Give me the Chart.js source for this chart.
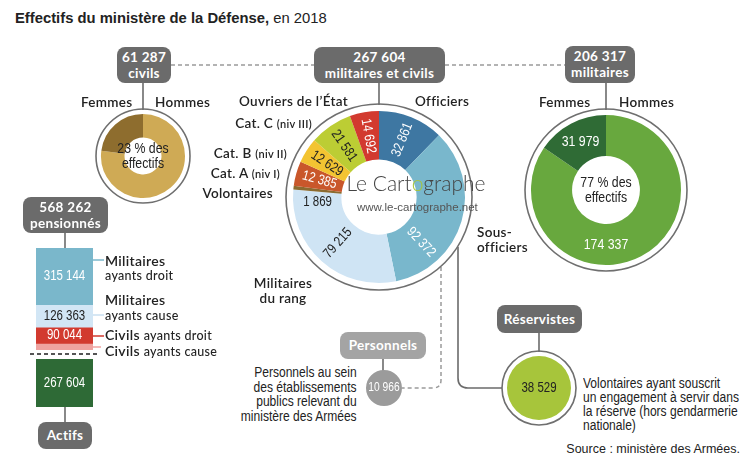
<html>
<head>
<meta charset="utf-8">
<style>
  html, body { margin: 0; padding: 0; background: #fff; }
  #page { position: relative; width: 750px; height: 473px; overflow: hidden;
    font-family: "Liberation Sans", Arial, sans-serif; color: #222; }
  canvas, svg { position: absolute; }
  .t { position: absolute; white-space: nowrap; }
  .box { position: absolute; background: #6b6b6b; color: #fff; border-radius: 8px; text-align: center;
    font-family: Lato, sans-serif; font-weight: 700; font-size: 13.5px; line-height: 16px; letter-spacing: 0.3px; }
  .cat { position: absolute; white-space: nowrap; font-family: Lato, sans-serif; font-weight: 600;
    font-size: 13.5px; line-height: 16px; color: #222; letter-spacing: 0.3px; }
  .small { font-size: 11px; font-weight: 600; }
  .narrow { font-family: "Liberation Sans", Arial, sans-serif; transform: scaleX(0.86); }
</style>
</head>
<body>
<div id="page">
  <svg width="750" height="473">
    <g stroke="#9a9a9a" stroke-width="1.3" stroke-dasharray="4 3" fill="none">
      <line x1="171" y1="65" x2="314" y2="65"/>
      <line x1="445" y1="65" x2="565" y2="65"/>
    </g>
    <g stroke="#6b6b6b" stroke-width="1.6" fill="none">
      <line x1="143" y1="83" x2="143" y2="110"/>
      <line x1="379" y1="83" x2="379" y2="105"/>
      <line x1="606" y1="83" x2="606" y2="110"/>
      <line x1="65" y1="233" x2="65" y2="248"/>
      <line x1="65" y1="407" x2="65" y2="422"/>
      <line x1="383" y1="359" x2="383" y2="371"/>
      <line x1="539" y1="333" x2="539" y2="352"/>
      <path d="M458 247 V378 Q458 388 468 388 H502"/>
    </g>
    <path d="M441 267 V380 Q441 388 433 388 H402" stroke="#9a9a9a" stroke-width="1.5" stroke-dasharray="4 3" fill="none"/>
    <line x1="30" y1="354" x2="100" y2="354" stroke="#555" stroke-width="2" stroke-dasharray="4 3"/>
    <line x1="93" y1="260" x2="104" y2="260" stroke="#7ab7cb" stroke-width="1.5"/>
    <line x1="93" y1="315" x2="104" y2="315" stroke="#c9dff0" stroke-width="1.5"/>
    <line x1="93" y1="336" x2="104" y2="336" stroke="#d23a2f" stroke-width="1.5"/>
    <line x1="93" y1="347" x2="101" y2="347" stroke="#efa3a0" stroke-width="1.5"/>
  </svg>

  <canvas id="civils" width="100" height="100" style="left:93px;top:106px"></canvas>
  <canvas id="main" width="192" height="192" style="left:283px;top:101px"></canvas>
  <canvas id="militaires" width="168" height="168" style="left:522px;top:106px"></canvas>
  <canvas id="pension" width="57" height="102" style="left:36px;top:248px"></canvas>
  <canvas id="actifs" width="57" height="48" style="left:36px;top:359px"></canvas>
  <canvas id="personnels" width="40" height="40" style="left:364px;top:368px"></canvas>
  <canvas id="reservistes" width="80" height="80" style="left:499px;top:348px"></canvas>

  <div class="t" style="left:15px;top:9px;font-size:14.8px;line-height:18px"><b>Effectifs du ministère de la Défense,</b> en 2018</div>

  <div class="box" style="left:117px;top:47px;width:54px;height:36px;padding-top:2px;box-sizing:border-box">61 287<br>civils</div>
  <div class="box" style="left:314px;top:47px;width:131px;height:36px;padding-top:2px;box-sizing:border-box">267 604<br>militaires et civils</div>
  <div class="box" style="left:565px;top:46px;width:70px;height:37px;padding-top:2px;box-sizing:border-box">206 317<br>militaires</div>
  <div class="box" style="left:23px;top:197px;width:85px;height:36px;padding-top:2px;box-sizing:border-box">568 262<br>pensionnés</div>
  <div class="box" style="left:38px;top:422px;width:54px;height:27px;line-height:27px">Actifs</div>
  <div class="box" style="left:340px;top:332px;width:86px;height:27px;line-height:27px;background:#a4a4a4">Personnels</div>
  <div class="box" style="left:497px;top:305px;width:85px;height:28px;line-height:28px">Réservistes</div>

  <div class="cat" style="left:81px;top:94px">Femmes</div>
  <div class="cat" style="left:155px;top:94px">Hommes</div>
  <div class="cat" style="left:239px;top:93px">Ouvriers de l’État</div>
  <div class="cat" style="left:415px;top:93px">Officiers</div>
  <div class="cat" style="right:438px;top:115px">Cat. C <span class="small">(niv III)</span></div>
  <div class="cat" style="right:463px;top:145px">Cat. B <span class="small">(niv II)</span></div>
  <div class="cat" style="right:470px;top:165px">Cat. A <span class="small">(niv I)</span></div>
  <div class="cat" style="right:477px;top:185px">Volontaires</div>
  <div class="cat" style="left:477px;top:225px;line-height:15px">Sous-<br>officiers</div>
  <div class="cat" style="left:243px;top:276px;width:80px;text-align:center;line-height:15px">Militaires<br>du rang</div>
  <div class="cat" style="left:539px;top:94px">Femmes</div>
  <div class="cat" style="left:619px;top:94px">Hommes</div>

  <div class="cat" style="left:105px;top:253px;font-size:14px">Militaires</div>
  <div class="cat" style="left:105px;top:268px;font-size:12.5px;font-weight:500">ayants droit</div>
  <div class="cat" style="left:105px;top:292px;font-size:14px">Militaires</div>
  <div class="cat" style="left:105px;top:308px;font-size:12.5px;font-weight:500">ayants cause</div>
  <div class="cat" style="left:105px;top:327px;font-size:14px">Civils <span style="font-size:12.5px;font-weight:500">ayants droit</span></div>
  <div class="cat" style="left:105px;top:343px;font-size:14px">Civils <span style="font-size:12.5px;font-weight:500">ayants cause</span></div>

  <div class="t" style="left:346px;top:170px;width:140px;text-align:center;font-family:Lato,sans-serif;font-weight:300;font-size:21px;line-height:26px;color:#444">Le Cart<span style="color:#a7c53b">o</span>graphe</div>
  <div class="t" style="left:357px;top:200px;font-size:11.5px;line-height:14px;color:#555">www.le-cartographe.net</div>

  <div class="t narrow" style="right:393px;top:365px;text-align:right;font-size:14px;line-height:14.5px;transform-origin:right top">Personnels au sein<br>des établissements<br>publics relevant du<br>ministère des Armées</div>
  <div class="t narrow" style="left:583px;top:376px;font-size:14px;line-height:14px;transform-origin:left top">Volontaires ayant souscrit<br>un engagement à servir dans<br>la réserve (hors gendarmerie<br>nationale)</div>
  <div class="t" style="right:10px;top:441px;font-size:12.5px;line-height:16px">Source : ministère des Armées.</div>
</div>

<script src="https://cdn.jsdelivr.net/npm/chart.js@4.4.0/dist/chart.umd.min.js"></script>
<script>
  // main ring, clockwise from the top
  const mainLabels = ['Officiers', 'Sous-officiers', 'Militaires du rang', 'Volontaires',
    'Cat. A (niv I)', 'Cat. B (niv II)', 'Cat. C (niv III)', "Ouvriers de l'État"];
  const mainValues = [32861, 92372, 79215, 1869, 12385, 12629, 21581, 14692];

  const civilsLabels = ['Hommes', 'Femmes'];
  const civilsShare = [77, 23];
  const militairesLabels = ['Hommes', 'Femmes'];
  const militairesValues = [174337, 31979];

  const pensionLabels = ['Militaires ayants droit', 'Militaires ayants cause', 'Civils ayants droit', 'Civils ayants cause'];
  const pensionValues = [315144, 126363, 90044, 36711];
  const actifsValues = [267604];

  const personnelsValues = [10966];
  const reservistesValues = [38529];

  const FONT = '"Liberation Sans", Arial, sans-serif';
  const SQUEEZE = 0.82; // condensed look
  const fmt = v => String(v).replace(/\B(?=(\d{3})+(?!\d))/g, ' ');

  function narrowText(ctx, s, x, y, rot) {
    ctx.save();
    ctx.translate(x, y);
    if (rot) ctx.rotate(rot);
    ctx.scale(SQUEEZE, 1);
    ctx.fillText(s, 0, 0);
    ctx.restore();
  }

  // outline ring + slice labels + centre text
  const deco = {
    id: 'deco',
    afterDatasetsDraw(chart, args, o) {
      const ctx = chart.ctx;
      const arcs = chart.getDatasetMeta(0).data;
      const a0 = arcs[0];
      ctx.save();
      if (o.ring) {
        ctx.beginPath();
        ctx.arc(a0.x, a0.y, a0.outerRadius + o.ring, 0, Math.PI * 2);
        ctx.lineWidth = 1.6;
        ctx.strokeStyle = '#6f6f6f';
        ctx.stroke();
      }
      ctx.textAlign = 'center';
      ctx.textBaseline = 'middle';
      if (o.text) {
        ctx.font = o.font;
        arcs.forEach((arc, i) => {
          if (!o.text[i]) return;
          const p = arc.getProps(['startAngle', 'endAngle', 'innerRadius', 'outerRadius', 'x', 'y']);
          let mid = (p.startAngle + p.endAngle) / 2;
          if (o.at && o.at[i] != null) mid = (o.at[i] - 90) * Math.PI / 180;
          const rr = (p.innerRadius + p.outerRadius) / 2;
          let x = p.x + Math.cos(mid) * rr, y = p.y + Math.sin(mid) * rr;
          const tiny = p.endAngle - p.startAngle < 0.1;
          if (tiny) y += 12;
          let rot = 0;
          if (o.radial && !tiny) {
            rot = mid;
            while (rot > Math.PI / 2) rot -= Math.PI;
            while (rot < -Math.PI / 2) rot += Math.PI;
          }
          ctx.fillStyle = o.text[i];
          narrowText(ctx, fmt(chart.data.datasets[0].data[i]), x, y, rot);
        });
      }
      if (o.center) {
        ctx.font = o.centerFont;
        ctx.fillStyle = o.centerColor || '#222';
        const lh = o.centerLh || 16;
        o.center.forEach((s, k) => {
          narrowText(ctx, s, a0.x, a0.y + (k - (o.center.length - 1) / 2) * lh, 0);
        });
      }
      ctx.restore();
    }
  };

  function ring(id, labels, values, colors, o) {
    new Chart(document.getElementById(id), {
      type: 'doughnut',
      data: { labels: labels, datasets: [{ data: values, backgroundColor: colors, borderWidth: 0 }] },
      options: {
        responsive: false, animation: false, events: [],
        radius: o.r, cutout: o.cut,
        plugins: { legend: { display: false }, tooltip: { enabled: false }, deco: o }
      },
      plugins: [deco]
    });
  }

  ring('main', mainLabels, mainValues,
    ['#3e77a2', '#79b7cc', '#cfe4f4', '#8b6b30', '#c9572b', '#f3c432', '#bccd34', '#d23a2f'],
    { r: 86, cut: 42, ring: 7, radial: true, font: '14px ' + FONT,
      text: ['#fff', '#fff', '#222', '#222', '#fff', '#222', '#222', '#fff'],
      at: [null, 137, null, null, null, null, null, null] });

  ring('civils', civilsLabels, civilsShare, ['#cfaa55', '#8e6d2e'],
    { r: 42, cut: 22, ring: 5, center: ['23 % des', 'effectifs'], centerFont: '15px ' + FONT, centerLh: 15 });

  ring('militaires', militairesLabels, militairesValues, ['#68a83e', '#2f6b35'],
    { r: 75, cut: 38, ring: 6, font: '15px ' + FONT, text: ['#fff', '#fff'], at: [180, null],
      center: ['77 % des', 'effectifs'], centerFont: '15px ' + FONT, centerLh: 15 });

  ring('personnels', ['Personnels'], personnelsValues, ['#9b9b9b'],
    { r: 18, cut: 0, center: [fmt(personnelsValues[0])], centerFont: '12.5px ' + FONT, centerColor: '#fff' });

  ring('reservistes', ['Réservistes'], reservistesValues, ['#a7c53b'],
    { r: 32, cut: 0, ring: 5, center: [fmt(reservistesValues[0])], centerFont: '14px ' + FONT });

  // labels inside stacked bars
  const barText = {
    id: 'barText',
    afterDatasetsDraw(chart, args, o) {
      const ctx = chart.ctx;
      ctx.save();
      ctx.font = '14px ' + FONT;
      ctx.textAlign = 'center';
      ctx.textBaseline = 'middle';
      chart.data.datasets.forEach((ds, i) => {
        if (!o.colors[i]) return;
        const el = chart.getDatasetMeta(i).data[0];
        ctx.fillStyle = o.colors[i];
        narrowText(ctx, fmt(ds.data[0]), el.x, (el.y + el.base) / 2, 0);
      });
      ctx.restore();
    }
  };

  function stack(id, labels, values, colors, textColors, max) {
    new Chart(document.getElementById(id), {
      type: 'bar',
      data: {
        labels: [''],
        datasets: values.map((v, i) => ({
          label: labels[i], data: [v], backgroundColor: colors[i], borderWidth: 0,
          barPercentage: 1, categoryPercentage: 1
        }))
      },
      options: {
        responsive: false, animation: false, events: [],
        layout: { padding: 0 },
        scales: {
          x: { stacked: true, display: false },
          y: { stacked: true, display: false, reverse: true, min: 0, max: max }
        },
        plugins: { legend: { display: false }, tooltip: { enabled: false }, barText: { colors: textColors } }
      },
      plugins: [barText]
    });
  }

  const pensionTotal = pensionValues.reduce((a, b) => a + b, 0);
  stack('pension', pensionLabels, pensionValues,
    ['#7ab7cb', '#d2e6f5', '#d23a2f', '#efa3a0'], ['#fff', '#222', '#fff', null], pensionTotal);
  stack('actifs', ['Actifs'], actifsValues, ['#2e6a36'], ['#fff'], actifsValues[0]);
</script>
</body>
</html>
